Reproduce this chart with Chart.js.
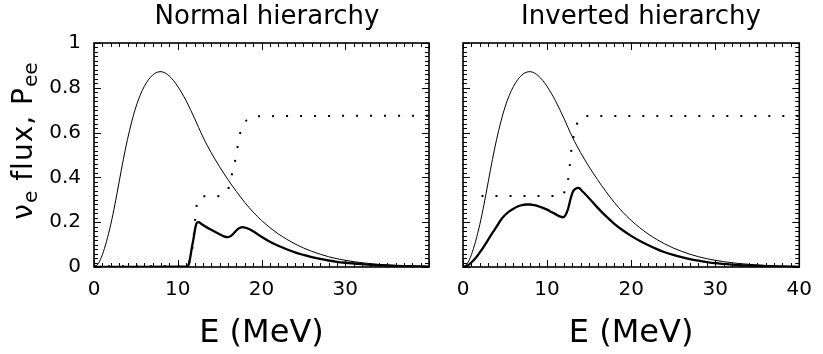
<!DOCTYPE html>
<html>
<head>
<meta charset="UTF-8">
<title>nu_e flux and Pee</title>
<script src="https://cdn.jsdelivr.net/npm/chart.js"></script>
<style>
body{margin:0; background:#fff;}
#wrap{position:relative; width:823px; height:354px; overflow:hidden; font-family:'DejaVu Sans', sans-serif; color:#000;}
canvas{position:absolute; top:0;}
#c1{left:0;}
#c2{left:440px;}
.ttl{position:absolute; top:0px; width:300px; text-align:center; font-size:26px; line-height:30px; white-space:nowrap;}
#ylab{position:absolute; left:-97px; top:124px; width:240px; height:34px; line-height:34px; text-align:center;
  font-size:28px; letter-spacing:1px; transform:rotate(-90deg); white-space:nowrap;}
#ylab sub{font-size:72%; vertical-align:-0.25em; letter-spacing:0;}
</style>
<script>
// energies (MeV) and unoscillated nu_e flux, shared by both panels
var energyFlux = [0,0.5,1,1.5,2,2.5,3,3.5,4,4.5,5,5.5,6,6.5,7,7.5,8,8.5,9,9.5,10,10.5,11,11.5,12,12.5,13,13.5,14,14.5,15,15.5,16,16.5,17,17.5,18,18.5,19,19.5,20,21,22,23,24,25,26,27,28,29,30,31,32,33,34,35,36,37,38,39,40];
var fluxNoOsc = [0,0.015,0.055,0.115,0.19,0.28,0.38,0.48,0.57,0.648,0.714,0.766,0.806,0.836,0.857,0.869,0.872,0.866,0.852,0.832,0.806,0.776,0.742,0.704,0.664,0.622,0.581,0.544,0.51,0.478,0.447,0.418,0.39,0.363,0.337,0.312,0.288,0.266,0.245,0.226,0.208,0.176,0.148,0.124,0.103,0.085,0.07,0.057,0.046,0.037,0.03,0.024,0.019,0.015,0.012,0.009,0.007,0.005,0.004,0.003,0.002];

// normal hierarchy
var energyNormal = [0,5,11,11.3,11.5,11.7,11.9,12.1,12.3,12.5,12.8,13.2,14,15,15.5,16,16.4,16.8,17.2,17.7,18.2,19,20,21,22,23,24,25,26,27,28,29,30,32,34,36,38,40];
var fluxNormal = [0,0.001,0.002,0.01,0.045,0.09,0.13,0.175,0.198,0.2,0.193,0.183,0.166,0.146,0.137,0.133,0.14,0.155,0.17,0.178,0.174,0.16,0.135,0.113,0.095,0.079,0.065,0.054,0.044,0.036,0.029,0.023,0.019,0.013,0.008,0.005,0.003,0.002];
var energyPNormal = [0,11.2,11.5,11.8,12.05,12.3,12.7,13.1,14.7,15.5,16,16.2,16.4,16.8,17.1,17.4,17.7,18,18.6,19.4,40];
var pNormal = [0.003,0.003,0.04,0.1,0.2,0.285,0.31,0.316,0.316,0.325,0.345,0.37,0.403,0.466,0.527,0.59,0.625,0.646,0.664,0.673,0.675];

// inverted hierarchy
var energyInverted = [0,0.5,1,1.5,2,2.5,3,3.5,4,4.5,5,5.5,6,6.5,7,7.5,8,8.5,9,9.5,10,10.5,11,11.5,11.9,12.2,12.5,12.8,13.1,13.4,13.75,14.2,15,16,17,18,19,20,21,22,23,24,25,26,27,28,29,30,32,34,36,38,40];
var fluxInverted = [0,0.005,0.02,0.04,0.065,0.092,0.122,0.152,0.18,0.21,0.232,0.248,0.26,0.27,0.276,0.279,0.279,0.276,0.271,0.264,0.256,0.246,0.236,0.226,0.222,0.232,0.26,0.305,0.338,0.35,0.353,0.338,0.307,0.265,0.227,0.193,0.164,0.139,0.117,0.098,0.081,0.066,0.054,0.044,0.035,0.028,0.022,0.017,0.011,0.007,0.004,0.002,0.001];
var energyPInverted = [2.2,11.8,12,12.3,12.5,12.7,12.85,13.1,13.5,13.9,14.4,40];
var pInverted = [0.317,0.317,0.329,0.36,0.39,0.451,0.51,0.573,0.634,0.66,0.674,0.674];

var xTicks = [0,10,20,30,40];
var yTicks = [0,0.2,0.4,0.6,0.8,1];

function pts(xs, ys){
	return xs.map(function(x, i){ return {x: x, y: ys[i]}; });
}

// box + inward ticks on all four sides
var frameTicks = {
	id: 'frameTicks',
	afterDatasetsDraw: function(chart){
		var ctx = chart.ctx, a = chart.chartArea, sx = chart.scales.x, sy = chart.scales.y;
		ctx.save();
		ctx.strokeStyle = '#000';
		ctx.lineWidth = 1;
		ctx.beginPath();
		for (var v = 0; v <= 40; v++) {
			var px = Math.round(sx.getPixelForValue(v)) + 0.5;
			var len = (v % 10 === 0) ? 7 : 4;
			ctx.moveTo(px, a.bottom); ctx.lineTo(px, a.bottom - len);
			ctx.moveTo(px, a.top); ctx.lineTo(px, a.top + len);
		}
		for (var i = 0; i <= 50; i++) {
			var py = Math.round(sy.getPixelForValue(i * 0.02)) + 0.5;
			var l2 = (i % 10 === 0) ? 7 : 4;
			ctx.moveTo(a.left, py); ctx.lineTo(a.left + l2, py);
			ctx.moveTo(a.right, py); ctx.lineTo(a.right - l2, py);
		}
		ctx.stroke();
		ctx.lineWidth = 1.6;
		ctx.strokeRect(a.left, a.top, a.right - a.left, a.bottom - a.top);
		ctx.restore();
	}
};

function makePanel(id, eThick, fThick, eP, p, opt){
	var font = {family: 'DejaVu Sans', size: 20};
	return new Chart(document.getElementById(id), {
		type: 'line',
		data: {
			datasets: [
				{ data: pts(energyFlux, fluxNoOsc), borderColor: '#000', borderWidth: 1, pointRadius: 0, cubicInterpolationMode: 'monotone' },
				{ data: pts(eThick, fThick), borderColor: '#000', borderWidth: 2.3, pointRadius: 0, cubicInterpolationMode: 'monotone' },
				{ data: pts(eP, p), borderColor: '#000', borderWidth: 2, borderDash: [2, 12], pointRadius: 0, cubicInterpolationMode: 'monotone' }
			]
		},
		options: {
			responsive: false,
			animation: false,
			devicePixelRatio: 1,
			layout: { padding: { left: 0, right: opt.padRight, top: 43, bottom: 0 } },
			plugins: { legend: { display: false }, tooltip: { enabled: false }, title: { display: false } },
			scales: {
				x: {
					type: 'linear', min: 0, max: 40,
					grid: { display: false, drawTicks: false },
					border: { display: false },
					afterBuildTicks: function(s){ s.ticks = xTicks.map(function(v){ return {value: v}; }); },
					ticks: {
						color: '#000', font: font, padding: 11, maxRotation: 0, autoSkip: false,
						callback: function(v){ return (opt.hideLast && v === 40) ? '' : String(v); }
					},
					title: { display: true, text: 'E (MeV)', color: '#000', font: {family: 'DejaVu Sans', size: 32}, padding: {top: 0, bottom: 1} },
					afterFit: function(s){ s.height = 87; }
				},
				y: {
					type: 'linear', min: 0, max: 1,
					grid: { display: false, drawTicks: false },
					border: { display: false },
					afterBuildTicks: function(s){ s.ticks = yTicks.map(function(v){ return {value: v}; }); },
					ticks: {
						display: opt.yLabels, color: '#000', font: font, padding: 13,
						callback: function(v){ return String(Math.round(v * 10) / 10); }
					},
					afterFit: function(s){ s.width = opt.yWidth; }
				}
			}
		},
		plugins: [frameTicks]
	});
}

window.onload = function(){
	makePanel('c1', energyNormal, fluxNormal, energyPNormal, pNormal, {padRight: 5, yWidth: 94, yLabels: true, hideLast: true});
	makePanel('c2', energyInverted, fluxInverted, energyPInverted, pInverted, {padRight: 20, yWidth: 23, yLabels: false, hideLast: false});
};
</script>
</head>
<body>
<div id="wrap">
	<canvas id="c1" width="440" height="354"></canvas>
	<canvas id="c2" width="383" height="354"></canvas>
	<div class="ttl" style="left:117px;">Normal hierarchy</div>
	<div class="ttl" style="left:491px;">Inverted hierarchy</div>
	<div id="ylab">&nu;<sub>e</sub> flux, P<sub>ee</sub></div>
</div>
</body>
</html>
